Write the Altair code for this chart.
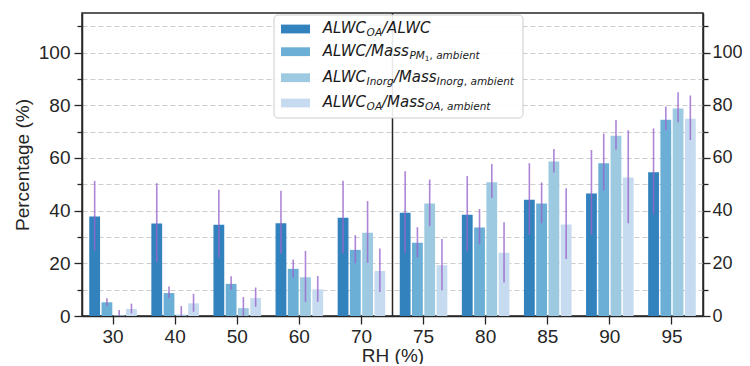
import altair as alt
import pandas as pd

# ---------------- data ----------------
rh = ["30", "40", "50", "60", "70", "75", "80", "85", "90", "95"]
series_keys = ["oa_alwc", "alwc_pm1", "inorg", "oa_mass"]
colors = ["#3182bd", "#6baed6", "#9ecae1", "#c6dbef"]

s1 = [37.8, 35.1, 34.6, 35.2, 37.3, 39.2, 38.4, 44.1, 46.5, 54.6]
s1_lo = [24.8, 20.4, 22.2, 23.6, 23.8, 23.8, 24.5, 30.8, 30.9, 38.5]
s1_hi = [51.3, 50.4, 47.9, 47.5, 51.3, 54.9, 53.1, 58.0, 63.0, 71.2]
s2 = [5.2, 8.7, 12.2, 17.9, 25.1, 27.8, 33.6, 42.7, 58.0, 74.5]
s2_lo = [3.8, 6.8, 10.0, 14.6, 20.0, 22.3, 27.3, 35.2, 47.6, 70.5]
s2_hi = [6.7, 11.2, 15.1, 21.4, 30.7, 33.7, 40.6, 50.7, 69.2, 79.5]
s3 = [0.3, 0.5, 3.0, 14.7, 31.6, 42.7, 50.8, 58.6, 68.4, 78.8]
s3_lo = [0.0, 0.0, 0.0, 5.3, 20.2, 34.1, 44.8, 54.5, 63.2, 73.5]
s3_hi = [2.3, 3.8, 7.2, 24.7, 43.6, 51.8, 57.7, 63.4, 74.4, 84.9]
s4 = [2.7, 4.8, 6.8, 10.1, 17.1, 19.3, 24.0, 34.7, 52.6, 74.9]
s4_lo = [1.0, 1.6, 3.5, 5.4, 9.1, 9.8, 12.7, 21.6, 35.2, 66.8]
s4_hi = [4.7, 8.4, 10.8, 15.2, 25.6, 29.2, 35.6, 48.5, 70.5, 83.7]

y_ticks = list(range(0, 111, 10))

# legend label pieces: (text, level, italic)
legend_rows = [
    [("ALWC", 0, True), ("OA", 1, True), ("/ALWC", 0, True)],
    [("ALWC/Mass", 0, True), ("PM", 1, True), ("1", 2, False), (", ", 1, False), ("ambient", 1, True)],
    [("ALWC", 0, True), ("Inorg", 1, True), ("/Mass", 0, True), ("Inorg", 1, True), (", ", 1, False), ("ambient", 1, True)],
    [("ALWC", 0, True), ("OA", 1, True), ("/Mass", 0, True), ("OA", 1, True), (", ", 1, False), ("ambient", 1, True)],
]

# ---------------- layout / style ----------------
W_PLOT, H_PLOT = 621, 303
INK = "#262626"
FONT = "Liberation Sans"

rows = []
for vals, lo, hi, key in zip([s1, s2, s3, s4], [s1_lo, s2_lo, s3_lo, s4_lo],
                             [s1_hi, s2_hi, s3_hi, s4_hi], series_keys):
    for r, v, l, h in zip(rh, vals, lo, hi):
        rows.append({"rh": r, "series": key, "value": v, "lo": l, "hi": h})
df = pd.DataFrame(rows)

yscale = alt.Scale(domain=[0, 115], nice=False, zero=True)
xscale = alt.Scale(domain=rh, paddingInner=0.21, paddingOuter=0.105)
offscale = alt.Scale(domain=series_keys, paddingInner=0.12, paddingOuter=0.06)
tick_cond = {"condition": {"test": "datum.value % 20 == 0", "value": 8}, "value": 5}
tick_cond_r = {"condition": {"test": "datum.value % 20 == 0", "value": 7}, "value": 5}
label_expr = "datum.value % 20 == 0 ? datum.label : ''"

x_enc = alt.X("rh:N", sort=rh, scale=xscale,
              axis=alt.Axis(title="RH (%)", labelAngle=0, tickSize=8, labelPadding=3,
                            titlePadding=0))
off_enc = alt.XOffset("series:N", sort=series_keys, scale=offscale)

bars = alt.Chart(df).mark_bar().encode(
    x=x_enc,
    xOffset=off_enc,
    y=alt.Y("value:Q", scale=yscale,
            axis=alt.Axis(title="Percentage (%)", values=y_ticks, labelExpr=label_expr,
                          tickSize=tick_cond, grid=True, gridDash=[5, 3],
                          gridColor="#cccccc", gridWidth=1, labelPadding=4,
                          titlePadding=6)),
    color=alt.Color("series:N", scale=alt.Scale(domain=series_keys, range=colors), legend=None),
)

err = alt.Chart(df).mark_rule(color="#9966cc", strokeWidth=1.6, opacity=0.8).encode(
    x=x_enc,
    xOffset=off_enc,
    y=alt.Y("lo:Q", scale=yscale,
            axis=alt.Axis(orient="right", title=None, values=y_ticks, labelExpr=label_expr,
                          tickSize=tick_cond_r, grid=False, labelPadding=2,
                          labelFontSize=18)),
    y2="hi:Q",
)

sep_x = W_PLOT * 5 / len(rh)
vline = alt.Chart(pd.DataFrame({"k": [0]})).mark_rule(color=INK, strokeWidth=1.5).encode(
    x=alt.value(sep_x), y=alt.value(0), y2=alt.value(H_PLOT)
)

# ---------------- custom legend ----------------
CW = {'A': 0.684, 'L': 0.557, 'W': 0.989, 'C': 0.698, 'O': 0.787, '/': 0.337, 'M': 0.863,
      'a': 0.613, 's': 0.521, 'P': 0.603, '1': 0.636, ',': 0.318, ' ': 0.318, 'm': 0.974,
      'b': 0.635, 'i': 0.278, 'e': 0.615, 'n': 0.634, 't': 0.392, 'I': 0.295, 'r': 0.411,
      'g': 0.635, 'o': 0.612}
LV_SIZE = {0: 15.0, 1: 10.5, 2: 7.35}
LV_DY = {0: 0.0, 1: 3.0, 2: 5.2}

LEG_X0, LEG_X1, LEG_Y0, LEG_Y1 = 192, 441, 2, 105
swatch_cy = [16.0, 38.7, 64.7, 90.0]
text_base = [20.3, 42.7, 69.0, 94.0]
text_x0 = 240.7

seg_rows = []
for ri, row in enumerate(legend_rows):
    x = text_x0
    for txt, lv, it in row:
        fs = LV_SIZE[lv]
        seg_rows.append({"t": txt, "px": x, "py": text_base[ri] + LV_DY[lv], "fs": fs,
                         "it": "italic" if it else "normal"})
        x += sum(CW.get(ch, 0.6) for ch in txt) * fs
seg_df = pd.DataFrame(seg_rows)

sw_df = pd.DataFrame({
    "sx": [199] * 4, "sx2": [228] * 4,
    "sy": [c - 4.4 for c in swatch_cy], "sy2": [c + 4.4 for c in swatch_cy],
    "c": colors,
})

frame = alt.Chart(pd.DataFrame({"k": [0]})).mark_rect(
    fill="white", fillOpacity=0.9, stroke="#cccccc", strokeWidth=1, cornerRadius=4
).encode(x=alt.value(LEG_X0), x2=alt.value(LEG_X1), y=alt.value(LEG_Y0), y2=alt.value(LEG_Y1))

swatches = alt.Chart(sw_df).mark_rect().encode(
    x=alt.X("sx:Q", scale=None, axis=None), x2="sx2:Q",
    y=alt.Y("sy:Q", scale=None, axis=None), y2="sy2:Q",
    color=alt.Color("c:N", scale=None, legend=None),
)

def seg_layer(style):
    return alt.Chart(seg_df).transform_filter(alt.datum.it == style).mark_text(
        align="left", baseline="alphabetic", font="DejaVu Sans", fontStyle=style, color="#1a1a1a"
    ).encode(
        x=alt.X("px:Q", scale=None, axis=None),
        y=alt.Y("py:Q", scale=None, axis=None),
        size=alt.Size("fs:Q", scale=None, legend=None),
        text="t:N",
    )

chart = alt.layer(
    bars, vline, err, frame, swatches, seg_layer("italic"), seg_layer("normal")
).resolve_scale(y="independent").properties(
    width=W_PLOT, height=H_PLOT,
    padding={"left": 74, "top": 5, "right": 39, "bottom": 48},
    autosize=alt.AutoSizeParams(type="none"),
).configure_view(
    stroke=INK, strokeWidth=1.5
).configure_axis(
    labelFont=FONT, titleFont=FONT, labelFontSize=19, titleFontSize=19,
    titleFontWeight="normal", labelColor=INK, titleColor=INK,
    domainColor=INK, domainWidth=1.5, tickColor=INK, tickWidth=1.3,
)

chart.save("out.html", embed_options={"renderer": "svg", "actions": False})
